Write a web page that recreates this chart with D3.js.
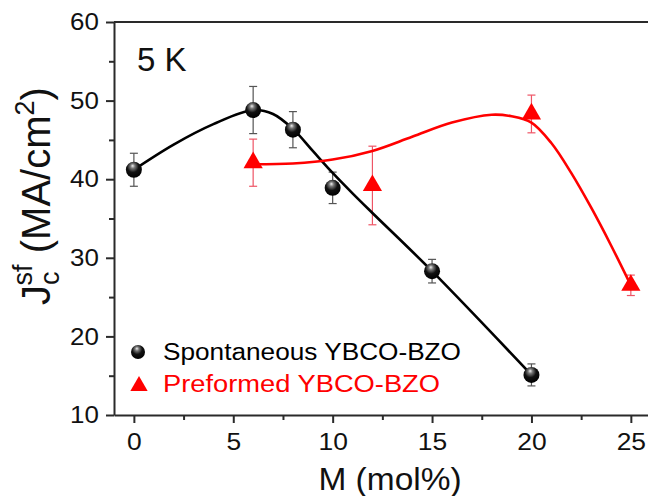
<!DOCTYPE html>
<html><head><meta charset="utf-8">
<script src="https://cdn.jsdelivr.net/npm/d3@7"></script>
<style>
html,body{margin:0;padding:0;background:#fff;}
svg{display:block;font-family:"Liberation Sans",Arial,sans-serif;}
</style></head>
<body>
<svg id="c" width="648" height="496"></svg>
<script>
// Data
const spontX   = [0, 6, 8, 10, 15, 20];
const spontY   = [41.2, 48.8, 46.3, 38.9, 28.3, 15.1];
const spontErr = [2.1, 3.0, 2.3, 2.0, 1.5, 1.4];
const prefX    = [6, 12, 20, 25];
const prefY    = [42.1, 39.2, 48.3, 26.5];
const prefErr  = [3.0, 5.0, 2.4, 1.3];
// smooth guide curves
const spontFitX = [0, 2, 4, 6, 7, 8, 9, 10, 11, 12, 15, 20];
const spontFitY = [41.2, 44.4, 47.0, 48.8, 48.3, 46.4, 43.6, 40.8, 38.2, 35.7, 28.3, 15.1];
const prefFitX  = [6, 8, 10, 12, 14, 16, 18, 19, 20, 21, 22, 23, 24, 25];
const prefFitY  = [41.9, 42.0, 42.5, 43.6, 45.4, 47.2, 48.2, 48.0, 47.2, 44.6, 40.8, 36.4, 31.6, 26.5];
const xMajor = [0, 5, 10, 15, 20, 25];
const xMinor = [2.5, 7.5, 12.5, 17.5, 22.5];
const yMajor = [10, 20, 30, 40, 50, 60];
const yMinor = [15, 25, 35, 45, 55];

const svg = d3.select("#c");
const x = d3.scaleLinear().domain([-1, 27]).range([114, 670.6]);
const y = d3.scaleLinear().domain([10, 60]).range([415, 22]);
const axisColor = "#2a2a2a";
const FONT = "'Liberation Sans',Arial,sans-serif";

const defs = svg.append("defs");
const g = defs.append("radialGradient").attr("id","sph").attr("cx","45%").attr("cy","35%").attr("r","65%").attr("fx","42%").attr("fy","25%");
g.append("stop").attr("offset","0%").attr("stop-color","#f0f0f0");
g.append("stop").attr("offset","22%").attr("stop-color","#777");
g.append("stop").attr("offset","55%").attr("stop-color","#111");
g.append("stop").attr("offset","100%").attr("stop-color","#000");

// axes
function styleAxis(sel){
  sel.selectAll("path,line").attr("stroke", axisColor).attr("stroke-width", 2);
  sel.selectAll("text").attr("fill","#111").style("font-size","24px").style("font-family",FONT);
}
const xa = svg.append("g").attr("transform","translate(0,415)")
  .call(d3.axisBottom(x).tickValues(xMajor).tickSize(8).tickSizeOuter(0).tickPadding(10).tickFormat(d3.format("d")));
styleAxis(xa);
xa.selectAll("text").attr("transform","scale(1.1,1)");
const xm = svg.append("g").attr("transform","translate(0,415)")
  .call(d3.axisBottom(x).tickValues(xMinor).tickSize(5).tickSizeOuter(0).tickFormat(""));
styleAxis(xm); xm.select(".domain").remove();

const ya = svg.append("g").attr("transform","translate(114,0)")
  .call(d3.axisLeft(y).tickValues(yMajor).tickSize(8).tickSizeOuter(0).tickPadding(6).tickFormat(d3.format("d")));
styleAxis(ya);
ya.selectAll("text").attr("transform","scale(1.08,1)");
const ym = svg.append("g").attr("transform","translate(114,0)")
  .call(d3.axisLeft(y).tickValues(yMinor).tickSize(5).tickSizeOuter(0).tickFormat(""));
styleAxis(ym); ym.select(".domain").remove();

// top / right frame
svg.append("line").attr("x1", x(-1)).attr("x2", x(27)).attr("y1", y(60)).attr("y2", y(60))
  .attr("stroke", axisColor).attr("stroke-width", 2);
svg.append("line").attr("x1", x(27)).attr("x2", x(27)).attr("y1", y(60)).attr("y2", y(10))
  .attr("stroke", axisColor).attr("stroke-width", 2);

// error bars
function errBars(xs, ys, es, color){
  const gg = svg.append("g").attr("stroke", color).attr("stroke-width", 1.2).attr("fill","none");
  xs.forEach((xv,i)=>{
    const cx = x(xv), t = y(ys[i]+es[i]), b = y(ys[i]-es[i]);
    gg.append("line").attr("x1",cx).attr("x2",cx).attr("y1",t).attr("y2",b);
    gg.append("line").attr("x1",cx-4).attr("x2",cx+4).attr("y1",t).attr("y2",t);
    gg.append("line").attr("x1",cx-4).attr("x2",cx+4).attr("y1",b).attr("y2",b);
  });
}
errBars(spontX, spontY, spontErr, "#555");
errBars(prefX, prefY, prefErr, "#ee5566");

// curves
const line = d3.line().x(d=>x(d[0])).y(d=>y(d[1])).curve(d3.curveCatmullRom.alpha(0.5));
svg.append("path").attr("d", line(spontFitX.map((v,i)=>[v, spontFitY[i]])))
  .attr("fill","none").attr("stroke","#000").attr("stroke-width",2.6);
svg.append("path").attr("d", line(prefFitX.map((v,i)=>[v, prefFitY[i]])))
  .attr("fill","none").attr("stroke","#ff0000").attr("stroke-width",2.6);

// markers
const tri = d3.symbol().type(d3.symbolTriangle).size(160);
svg.append("g").selectAll("path").data(prefX.map((v,i)=>[v, prefY[i]])).join("path")
  .attr("d", tri).attr("transform", d=>`translate(${x(d[0])},${y(d[1])})`).attr("fill","#ff0000");
svg.append("g").selectAll("circle").data(spontX.map((v,i)=>[v, spontY[i]])).join("circle")
  .attr("cx", d=>x(d[0])).attr("cy", d=>y(d[1])).attr("r", 8).attr("fill","url(#sph)");

// legend
svg.append("circle").attr("cx",138).attr("cy",352).attr("r",7).attr("fill","url(#sph)");
svg.append("text").attr("x",163).attr("y",360).attr("fill","#000").style("font-size","23.5px")
  .attr("textLength",298).attr("lengthAdjust","spacingAndGlyphs").text("Spontaneous YBCO-BZO");
svg.append("path").attr("d", d3.symbol().type(d3.symbolTriangle).size(130)).attr("transform","translate(139,386)").attr("fill","#ff0000");
svg.append("text").attr("x",163).attr("y",392).attr("fill","#ff0000").style("font-size","23.5px")
  .attr("textLength",277).attr("lengthAdjust","spacingAndGlyphs").text("Preformed YBCO-BZO");

// 5 K label
svg.append("text").attr("x",137).attr("y",71).attr("fill","#111").style("font-size","33px").text("5 K");

// axis titles
svg.append("text").attr("transform","translate(390,490) scale(1.08,1)").attr("text-anchor","middle").attr("fill","#111")
  .style("font-size","31px").text("M (mol%)");
const yt = svg.append("text").attr("transform","translate(50,196) rotate(-90)").attr("text-anchor","middle")
  .attr("fill","#111").style("font-size","40px");
yt.append("tspan").text("J");
yt.append("tspan").attr("dy", 9).style("font-size","27px").text("c");
yt.append("tspan").attr("dx", -14).attr("dy", -27).style("font-size","27px").text("sf");
yt.append("tspan").attr("dy", 18).text(" (MA/cm");
yt.append("tspan").attr("dy", -16).style("font-size","27px").text("2");
yt.append("tspan").attr("dy", 16).text(")");
</script>
</body></html>
